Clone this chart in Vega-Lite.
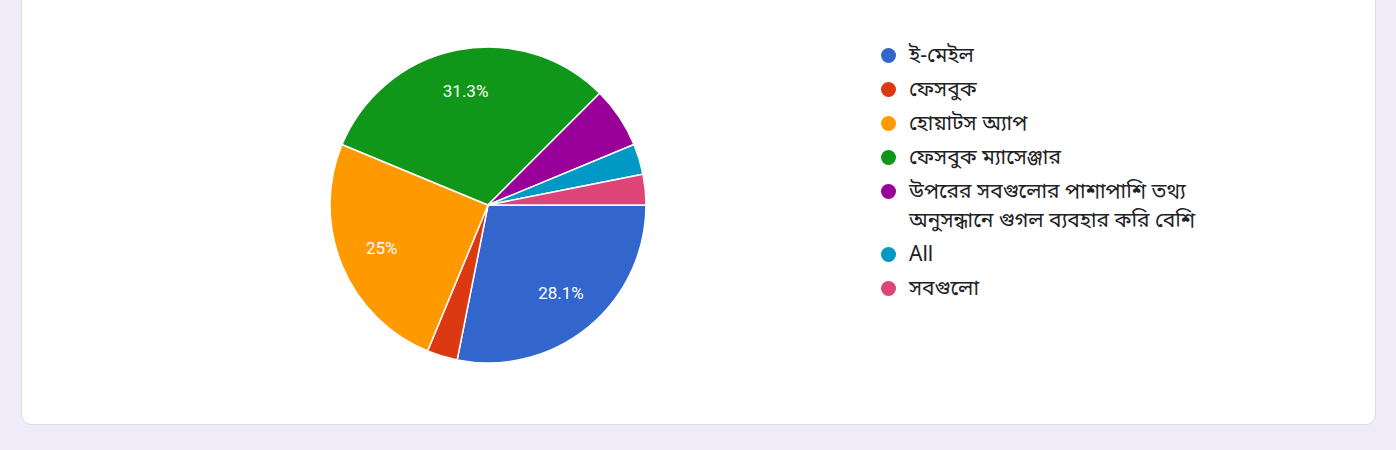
{
  "$schema": "https://vega.github.io/schema/vega-lite/v6.json",
  "width": 1354,
  "height": 439,
  "autosize": "none",
  "padding": {"left": 21, "top": -15, "right": 21, "bottom": 26},
  "background": "#f0ebf8",
  "view": {"fill": "#ffffff", "stroke": "#dcd8e4", "strokeWidth": 1, "cornerRadius": 10},
  "config": {
    "style": {"guide-label": {"lineHeight": 29}}
  },
  "data": {
    "values": [
      {"rank": 1, "option": "ই-মেইল", "share": 0.28125},
      {"rank": 2, "option": "ফেসবুক", "share": 0.03125},
      {"rank": 3, "option": "হোয়াটস অ্যাপ", "share": 0.25},
      {"rank": 4, "option": "ফেসবুক ম্যাসেঞ্জার", "share": 0.3125},
      {"rank": 5, "option": "উপরের সবগুলোর পাশাপাশি তথ্য অনুসন্ধানে গুগল ব্যবহার করি বেশি", "share": 0.0625},
      {"rank": 6, "option": "All", "share": 0.03125},
      {"rank": 7, "option": "সবগুলো", "share": 0.03125}
    ]
  },
  "encoding": {
    "theta": {"field": "share", "type": "quantitative", "stack": true, "scale": {"range": [1.5707963, 7.8539816]}},
    "order": {"field": "rank", "type": "quantitative"}
  },
  "layer": [
    {
      "mark": {"type": "arc", "outerRadius": 158, "x": 467, "y": 220, "stroke": "white", "strokeWidth": 1.5},
      "encoding": {
        "color": {
          "field": "option",
          "type": "nominal",
          "scale": {
            "domain": ["ই-মেইল", "ফেসবুক", "হোয়াটস অ্যাপ", "ফেসবুক ম্যাসেঞ্জার", "উপরের সবগুলোর পাশাপাশি তথ্য অনুসন্ধানে গুগল ব্যবহার করি বেশি", "All", "সবগুলো"],
            "range": ["#3366cc", "#dc3912", "#ff9900", "#109618", "#990099", "#0099c6", "#dd4477"]
          },
          "legend": {
            "title": null,
            "orient": "none",
            "legendX": 857,
            "legendY": 60,
            "padding": 0,
            "symbolType": "circle",
            "symbolSize": 225,
            "symbolStrokeWidth": 0,
            "labelFontSize": 21,
            "labelFont": "Noto Sans Bengali, Noto Sans, sans-serif",
            "labelColor": "#202124",
            "labelOffset": 10,
            "labelLimit": 500,
            "rowPadding": 12,
            "labelExpr": "length(datum.label) > 30 ? ['উপরের সবগুলোর পাশাপাশি তথ্য', 'অনুসন্ধানে গুগল ব্যবহার করি বেশি'] : datum.label"
          }
        }
      }
    },
    {
      "mark": {"type": "text", "radius": 115, "x": 467, "y": 220, "fill": "white", "fontSize": 17, "font": "Roboto"},
      "encoding": {
        "text": {
          "condition": {"test": "datum.share > 0.1", "field": "share", "type": "quantitative", "format": ".1~%"},
          "value": ""
        }
      }
    }
  ]
}
